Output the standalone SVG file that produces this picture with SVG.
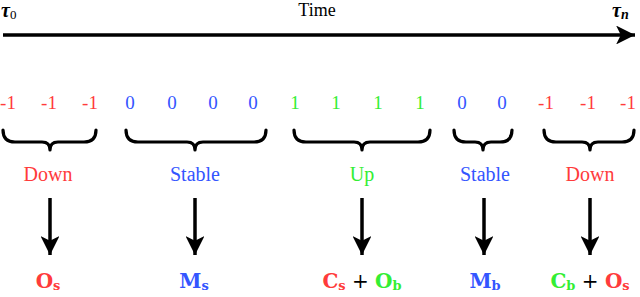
<svg xmlns="http://www.w3.org/2000/svg" width="640" height="297" viewBox="0 0 640 297">
<style>
.t{font-family:"Liberation Serif","Times New Roman",serif;}
.num{font-size:19px;text-anchor:middle;}
.lab{font-size:20px;text-anchor:middle;}
.m{font-family:"DejaVu Serif","Liberation Serif",serif;font-weight:bold;font-size:20px;text-anchor:middle;}
.sub{font-size:13px;}
.plus{font-weight:normal;fill:#000;}
.r{fill:#ff3b3b}.b{fill:#3355ff}.g{fill:#33ee33}
.brace{fill:none;stroke:#000;stroke-width:3.2;stroke-linejoin:round;stroke-linecap:round}
.conn line{stroke:#000;stroke-width:3.5}
</style>
<defs>
<marker id="ah" viewBox="0 0 10 10" refX="10" refY="5" markerWidth="5.4" markerHeight="5.4" markerUnits="strokeWidth" orient="auto">
<path d="M0,0 L10,5 L0,10 L2.5,5 Z" fill="#000"/>
</marker>
</defs>
<rect width="640" height="297" fill="#fff"/>

<g id="axis">
<line x1="3" y1="35" x2="635" y2="35" stroke="#000" stroke-width="3.5" marker-end="url(#ah)"/>
<text class="t" x="1" y="17" font-size="20" font-style="italic" font-weight="bold">τ<tspan font-size="13" font-style="normal" font-weight="normal" dy="2">0</tspan></text>
<text class="t" x="317" y="15.5" font-size="18" text-anchor="middle">Time</text>
<text class="t" x="612" y="17" font-size="20" font-style="italic" font-weight="bold">τ<tspan font-size="14" dy="2">n</tspan></text>
</g>

<g id="seg-down1">
<text class="t num r" x="8" y="109">-1</text>
<text class="t num r" x="49" y="109">-1</text>
<text class="t num r" x="90" y="109">-1</text>
<path class="brace" d="M3,130 q0,12 12,12 H42 q8,0 8,8 q0,-8 8,-8 H84 q12,0 12,-12"/>
<text class="t lab r" x="48" y="181">Down</text>
</g>

<g id="seg-stable1">
<text class="t num b" x="130" y="109">0</text>
<text class="t num b" x="172" y="109">0</text>
<text class="t num b" x="213" y="109">0</text>
<text class="t num b" x="253" y="109">0</text>
<path class="brace" d="M126,130 q0,12 12,12 H187 q8,0 8,8 q0,-8 8,-8 H254 q12,0 12,-12"/>
<text class="t lab b" x="195" y="181">Stable</text>
</g>

<g id="seg-up">
<text class="t num g" x="295" y="109">1</text>
<text class="t num g" x="336" y="109">1</text>
<text class="t num g" x="378" y="109">1</text>
<text class="t num g" x="420" y="109">1</text>
<path class="brace" d="M294,130 q0,12 12,12 H354 q8,0 8,8 q0,-8 8,-8 H418 q12,0 12,-12"/>
<text class="t lab g" x="362" y="181">Up</text>
</g>

<g id="seg-stable2">
<text class="t num b" x="462" y="109">0</text>
<text class="t num b" x="502" y="109">0</text>
<path class="brace" d="M454,130 q0,12 12,12 H475 q8,0 8,8 q0,-8 8,-8 H500 q12,0 12,-12"/>
<text class="t lab b" x="485" y="181">Stable</text>
</g>

<g id="seg-down2">
<text class="t num r" x="546" y="109">-1</text>
<text class="t num r" x="588" y="109">-1</text>
<text class="t num r" x="628" y="109">-1</text>
<path class="brace" d="M544,130 q0,12 12,12 H582 q8,0 8,8 q0,-8 8,-8 H622 q12,0 12,-12"/>
<text class="t lab r" x="590" y="181">Down</text>
</g>

<g id="connectors" class="conn">
<line x1="50" y1="198" x2="50" y2="255" marker-end="url(#ah)"/>
<line x1="195" y1="198" x2="195" y2="255" marker-end="url(#ah)"/>
<line x1="362" y1="198" x2="362" y2="255" marker-end="url(#ah)"/>
<line x1="484" y1="198" x2="484" y2="255" marker-end="url(#ah)"/>
<line x1="590" y1="198" x2="590" y2="255" marker-end="url(#ah)"/>
</g>

<g id="out-Os">
<text class="m r" x="48" y="288">O<tspan class="sub" dy="2">s</tspan></text>
</g>
<g id="out-Ms">
<text class="m b" x="194" y="288">M<tspan class="sub" dy="2">s</tspan></text>
</g>
<g id="out-CsOb">
<text class="m" x="362" y="288"><tspan class="r">C<tspan class="sub" dy="2">s</tspan></tspan><tspan class="plus" dy="-2"> + </tspan><tspan class="g">O<tspan class="sub" dy="2">b</tspan></tspan></text>
</g>
<g id="out-Mb">
<text class="m b" x="485" y="288">M<tspan class="sub" dy="2">b</tspan></text>
</g>
<g id="out-CbOs">
<text class="m" x="590" y="288"><tspan class="g">C<tspan class="sub" dy="2">b</tspan></tspan><tspan class="plus" dy="-2"> + </tspan><tspan class="r">O<tspan class="sub" dy="2">s</tspan></tspan></text>
</g>
</svg>
